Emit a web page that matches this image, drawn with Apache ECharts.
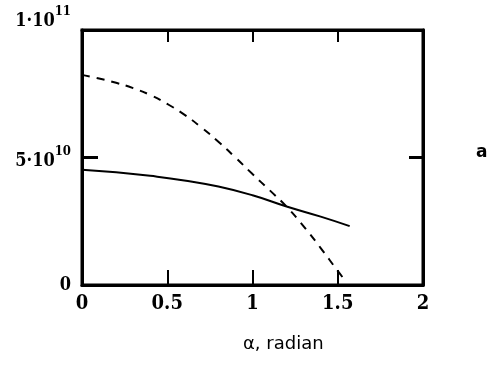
<!DOCTYPE html>
<html>
<head>
<meta charset="utf-8">
<script src="https://cdn.jsdelivr.net/npm/echarts@6/dist/echarts.min.js"></script>
<style>html,body{margin:0;padding:0;background:#fff;}#c{width:488px;height:365px;}</style>
</head>
<body>
<div id="c"></div>
<script>
// alpha (radian) values and the two curves (values in units of 1e10)
const alphaSolid = [0, 0.2, 0.4, 0.6, 0.8, 1.0, 1.2, 1.4, 1.57];
const solidVals  = [4.52, 4.42, 4.28, 4.10, 3.86, 3.52, 3.08, 2.68, 2.31];
const alphaDash  = [0, 0.1, 0.2, 0.3, 0.4, 0.5, 0.6, 0.7, 0.8, 0.9, 1.0, 1.1, 1.2, 1.3, 1.4, 1.5, 1.55];
const dashVals   = [8.24, 8.1, 7.93, 7.72, 7.45, 7.1, 6.68, 6.18, 5.62, 5.0, 4.35, 3.72, 3.07, 2.3, 1.45, 0.55, 0.12];
const xTicks = [0, 0.5, 1, 1.5, 2];
const yTickLabels = {0: '0', 50000000000: '{b|5·10}{s|10}', 100000000000: '{t|1·10}{ts|11}'};
const xTitle = 'α, radian';
const sideLabel = 'a';

const scale = 1e10;
const solidData = alphaSolid.map((a, i) => [a, solidVals[i] * scale]);
const dashData = alphaDash.map((a, i) => [a, dashVals[i] * scale]);

const numFont = '"DejaVu Serif Condensed", "DejaVu Serif", serif';
const chart = echarts.init(document.getElementById('c'));
chart.setOption({
  animation: false,
  backgroundColor: '#fff',
  grid: {left: 82, right: 65, top: 30, bottom: 80, show: true, borderColor: '#000', borderWidth: 3, backgroundColor: 'transparent'},
  xAxis: [{
    type: 'value', min: 0, max: 2, interval: 0.5,
    axisLine: {show: true, onZero: false, lineStyle: {color: '#000', width: 3}},
    axisTick: {show: true, inside: true, length: 15, lineStyle: {color: '#000', width: 2}},
    splitLine: {show: false},
    axisLabel: {margin: 9, color: '#000', fontFamily: numFont, fontWeight: 'bold', fontSize: 20,
      formatter: v => xTicks.includes(v) ? String(v) : ''}
  }, {
    type: 'value', min: 0, max: 2, interval: 0.5, position: 'top',
    axisLine: {show: true, onZero: false, lineStyle: {color: '#000', width: 3}},
    axisTick: {show: true, inside: true, length: 12, lineStyle: {color: '#000', width: 2}},
    axisLabel: {show: false}, splitLine: {show: false}
  }],
  yAxis: [{
    type: 'value', min: 0, max: 1e11, interval: 5e10,
    axisLine: {show: true, onZero: false, lineStyle: {color: '#000', width: 3}},
    axisTick: {show: true, inside: true, length: 16, lineStyle: {color: '#000', width: 3}},
    splitLine: {show: false},
    axisLabel: {
      margin: 11, color: '#000', fontFamily: numFont, fontWeight: 'bold', fontSize: 18,
      formatter: v => yTickLabels[v] !== undefined ? yTickLabels[v] : '',
      rich: {
        b: {fontFamily: numFont, fontWeight: 'bold', fontSize: 18, color: '#000', verticalAlign: 'bottom'},
        s: {fontFamily: numFont, fontWeight: 'bold', fontSize: 13, color: '#000', verticalAlign: 'bottom', padding: [0, 0, 12, 0]},
        t: {fontFamily: numFont, fontWeight: 'bold', fontSize: 18, color: '#000', verticalAlign: 'bottom', padding: [0, 0, 24, 0]},
        ts: {fontFamily: numFont, fontWeight: 'bold', fontSize: 13, color: '#000', verticalAlign: 'bottom', padding: [0, 0, 36, 0]}
      }
    }
  }, {
    type: 'value', min: 0, max: 1e11, interval: 5e10, position: 'right',
    axisLine: {show: true, onZero: false, lineStyle: {color: '#000', width: 3}},
    axisTick: {show: true, inside: true, length: 14, lineStyle: {color: '#000', width: 3}},
    axisLabel: {show: false}, splitLine: {show: false}
  }],
  series: [{
    type: 'line', data: solidData, smooth: true, symbol: 'none',
    lineStyle: {color: '#000', width: 2, type: 'solid'}
  }, {
    type: 'line', data: dashData, smooth: true, symbol: 'none',
    lineStyle: {color: '#000', width: 2, type: [8, 7]}
  }],
  graphic: [{
    type: 'text', left: 243, top: 335,
    style: {text: xTitle, font: '18px "DejaVu Sans", sans-serif', fill: '#000'}
  }, {
    type: 'text', left: 476, top: 144,
    style: {text: sideLabel, font: 'bold 17px "DejaVu Sans", sans-serif', fill: '#000'}
  }]
});
</script>
</body>
</html>
